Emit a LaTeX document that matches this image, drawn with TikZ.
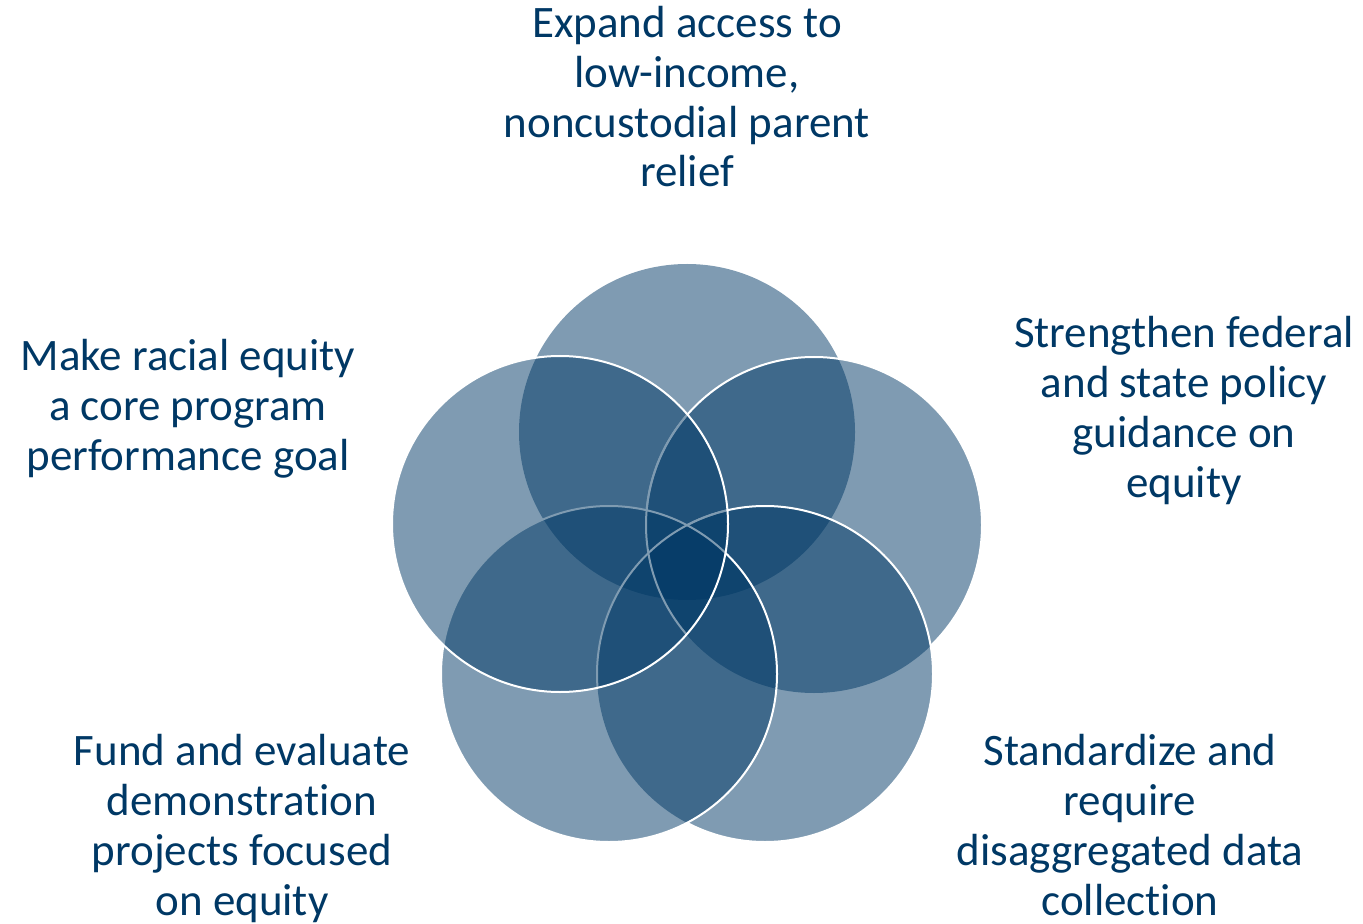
\documentclass[tikz,border=0pt]{standalone}
\usepackage{fontspec}
\setmainfont{Carlito}[Ligatures={NoCommon}]
\usepackage{xcolor}
\definecolor{vennblue}{HTML}{003865}
\tikzstyle{venn}=[fill=vennblue, fill opacity=.5]
\tikzstyle{rim}=[draw=white, line width=1pt]
\tikzstyle{goaltext}=[text=vennblue, align=center, inner sep=0pt, anchor=base, font=\fontsize{22.5}{24.9}\selectfont]
\begin{document}
\begin{tikzpicture}[x=.5pt, y=-.5pt]
	\useasboundingbox (0,0) rectangle (1363,924);
	\coordinate (cT) at (687,432);
	\coordinate (cR) at (814,525);
	\coordinate (cBR) at (765,674);
	\coordinate (cBL) at (609,674);
	\coordinate (cL) at (560,524);
	% fills, back to front
	\fill[venn] (cT) circle (84pt);
	\fill[venn] (cR) circle (84pt);
	\fill[venn] (cBR) circle (84pt);
	\fill[venn] (cBL) circle (84pt);
	% white rims where a circle lies on top
	\begin{scope}[even odd rule]
		\clip (0,0) rectangle (1363,924) (cBR) circle (84pt);
		\clip (0,0) rectangle (1363,924) (cBL) circle (84pt);
		\draw[rim] (cR) circle (84pt);
	\end{scope}
	\begin{scope}[even odd rule]
		\clip (0,0) rectangle (1363,924) (cBL) circle (84pt);
		\draw[rim] (cBR) circle (84pt);
	\end{scope}
	\begin{scope}
		\clip (cL) circle (84pt);
		\draw[rim] (cR) circle (84pt);
		\draw[rim] (cBR) circle (84pt);
	\end{scope}
	\draw[rim] (cBL) circle (84pt);
	\fill[venn] (cL) circle (84pt);
	\draw[rim] (cL) circle (84pt);
	% goals, placed at the baseline of their last line
	\node[goaltext] (access) at (687,187) {Expand access to\\low-income,\\noncustodial parent\\relief};
	\node[goaltext] (policy) at (1184,497) {Strengthen federal\\and state policy\\guidance on\\equity};
	\node[goaltext] (data) at (1130,915) {Standardize and\\require\\disaggregated data\\collection};
	\node[goaltext] (demo) at (242,915) {Fund and evaluate\\demonstration\\projects focused\\on equity};
	\node[goaltext] (goal) at (188,470) {Make racial equity\\a core program\\performance goal};
\end{tikzpicture}
\end{document}
